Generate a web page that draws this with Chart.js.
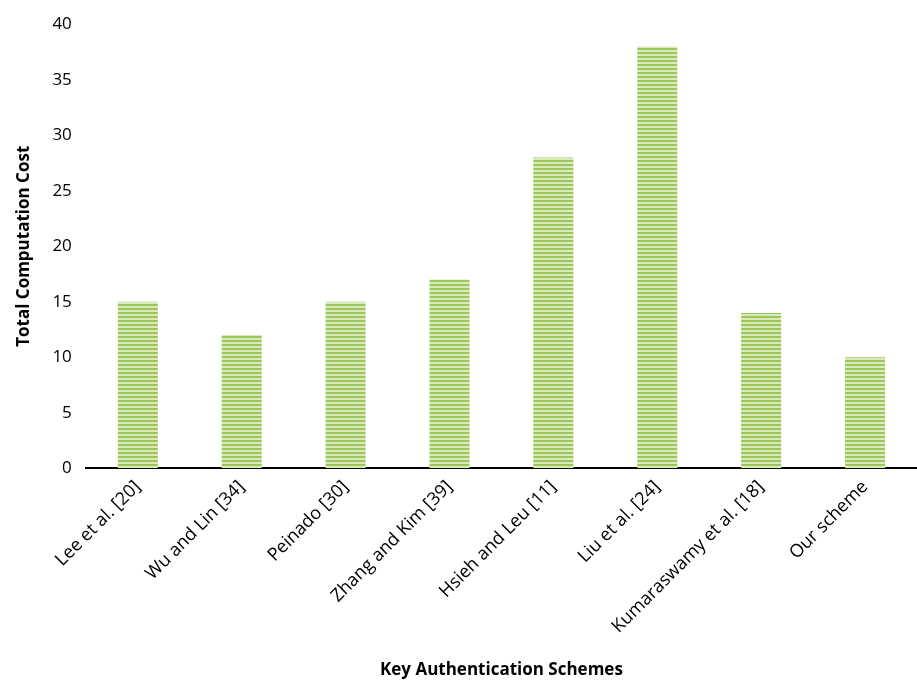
<!DOCTYPE html>
<html>
<head>
<meta charset="utf-8">
<script src="https://cdn.jsdelivr.net/npm/chart.js@4"></script>
<style>
  body { margin: 0; background: #fff; }
  #wrap { width: 917px; height: 684px; }
</style>
</head>
<body>
<div id="wrap"><canvas id="costChart"></canvas></div>
<script>
// Data
const schemes = ['Lee et al. [20]', 'Wu and Lin [34]', 'Peinado [30]', 'Zhang and Kim [39]',
  'Hsieh and Leu [11]', 'Liu et al. [24]', 'Kumaraswamy et al. [18]', 'Our scheme'];
const costs = [15, 12, 15, 17, 28, 38, 14, 10];
const yTicks = [0, 5, 10, 15, 20, 25, 30, 35, 40];

// striped green fill like the original
function makeStripes() {
    const c = document.createElement('canvas');
    c.width = 4; c.height = 4;
    const g = c.getContext('2d');
    g.fillStyle = '#d9eabd';
    g.fillRect(0, 0, 4, 4);
    g.fillStyle = '#9cc65a';
    g.fillRect(0, 0, 4, 2);
    return g.createPattern(c, 'repeat');
}

const fontFam = '"Open Sans", "Liberation Sans", sans-serif';

new Chart(document.getElementById('costChart'), {
    type: 'bar',
    data: {
        labels: schemes,
        datasets: [{
            data: costs,
            backgroundColor: makeStripes(),
            borderWidth: 0,
            barPercentage: 0.385,
            categoryPercentage: 1
        }]
    },
    options: {
        responsive: true,
        maintainAspectRatio: false,
        animation: false,
        layout: { padding: { top: 8, right: 0, left: 10, bottom: 0 } },
        plugins: {
            legend: { display: false },
            tooltip: { enabled: false }
        },
        scales: {
            x: {
                grid: { display: false, drawTicks: false },
                border: { color: '#000', width: 2 },
                ticks: {
                    color: '#000',
                    font: { family: fontFam, size: 18 },
                    maxRotation: 45,
                    minRotation: 45,
                    padding: 8
                },
                title: {
                    display: true,
                    text: 'Key Authentication Schemes',
                    color: '#000',
                    font: { family: fontFam, size: 17, weight: 'bold' },
                    padding: { top: 14 }
                }
            },
            y: {
                min: 0,
                max: 40,
                afterBuildTicks: axis => { axis.ticks = yTicks.map(v => ({ value: v })); },
                grid: { display: false, drawTicks: false },
                border: { display: false },
                ticks: {
                    color: '#000',
                    font: { family: fontFam, size: 17 },
                    padding: 14
                },
                title: {
                    display: true,
                    text: 'Total Computation Cost',
                    color: '#000',
                    font: { family: fontFam, size: 17, weight: 'bold' },
                    padding: { bottom: 4 }
                }
            }
        }
    }
});
</script>
</body>
</html>
